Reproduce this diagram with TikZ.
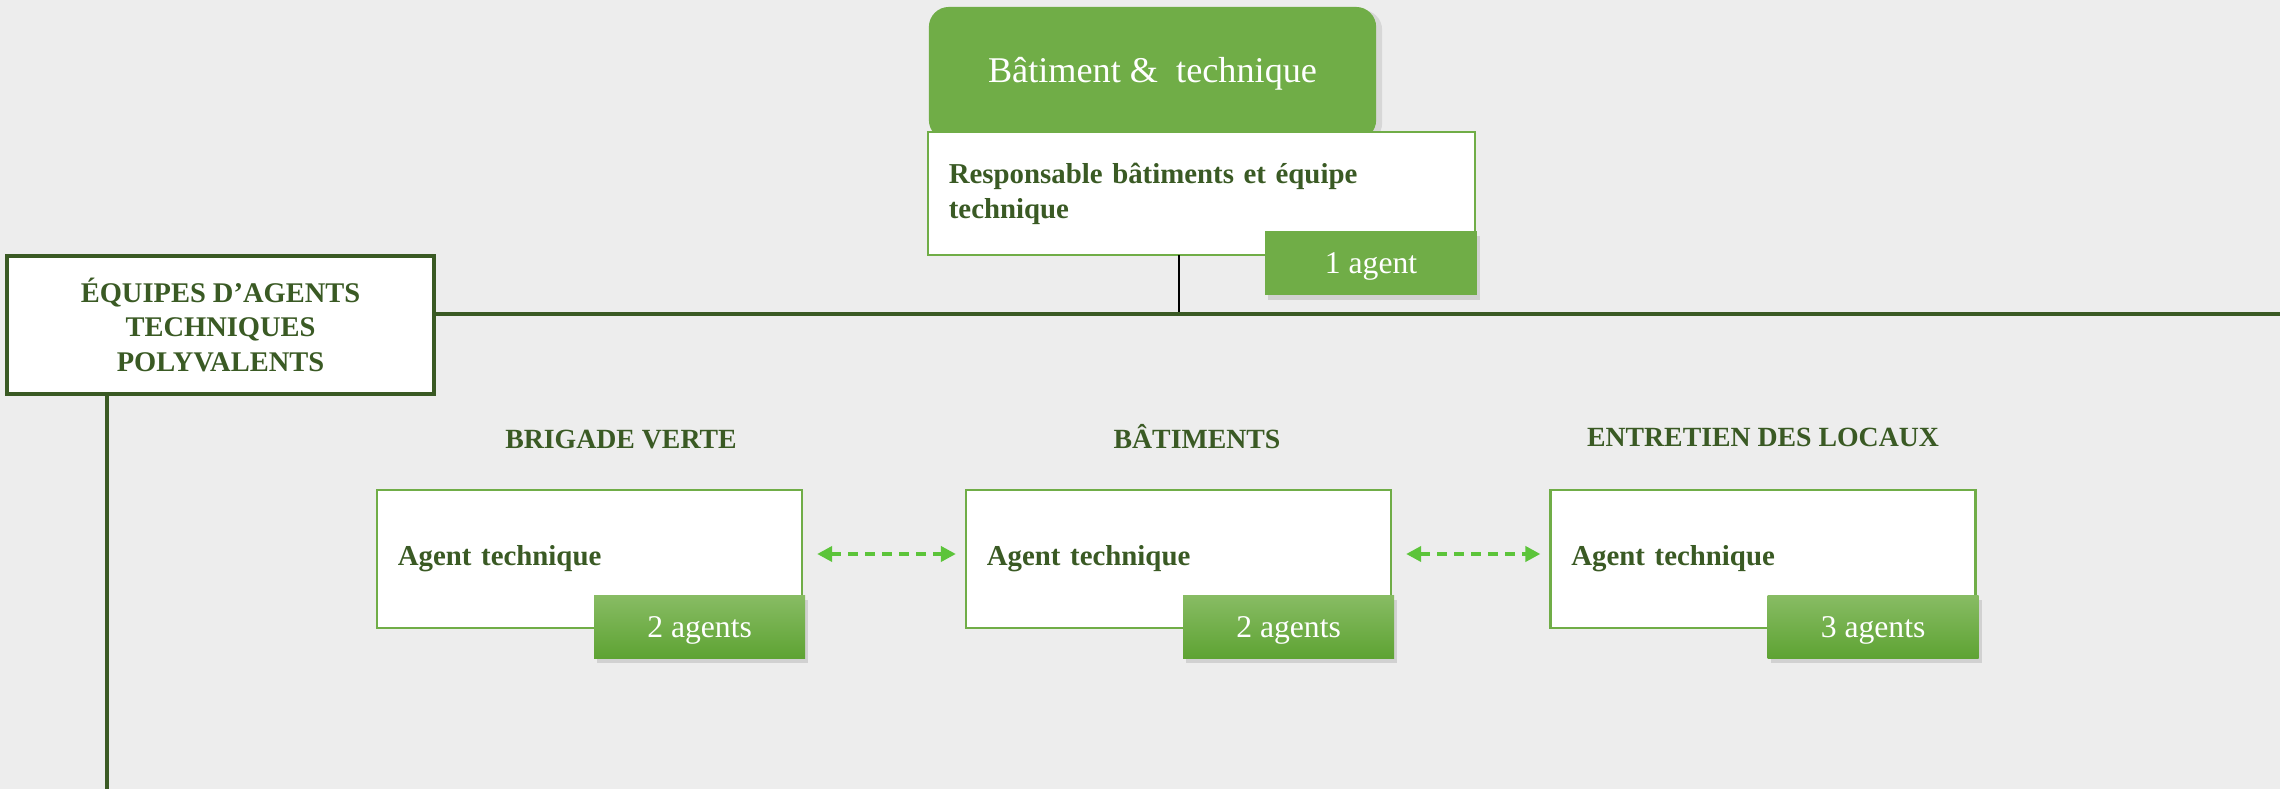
\documentclass[tikz,border=0pt]{standalone}
\usepackage{fontspec}
\setmainfont{Liberation Serif}
\usetikzlibrary{arrows.meta,positioning,shadows}

\definecolor{bgGray}{HTML}{EDEDED}
\definecolor{leafGreen}{HTML}{70AD47}
\definecolor{darkGreen}{HTML}{3A5A24}
\definecolor{arrowGreen}{HTML}{5CC43A}
\definecolor{badgeTop}{HTML}{88BC64}
\definecolor{badgeBot}{HTML}{5EA333}

\begin{document}
\begin{tikzpicture}[x=0.01cm, y=-0.01cm, >=Stealth,
    every node/.style={inner sep=0pt, outer sep=0pt},
    titlebox/.style={fill=leafGreen, rounded corners=2mm, minimum width=4.47cm, minimum height=1.33cm,
        text=white, font=\fontsize{10.3}{12}\selectfont,
        drop shadow={opacity=0.2, shadow xshift=0.6mm, shadow yshift=-0.3mm}},
    rolebox/.style={draw=leafGreen, line width=0.7pt, fill=white, minimum height=1.38cm,
        inner xsep=0.21cm, text width=3.83cm, align=left, text=darkGreen,
        font=\bfseries\fontsize{8.2}{10}\selectfont},
    teambox/.style={draw=darkGreen, line width=1pt, fill=white, minimum width=4.27cm, minimum height=1.38cm,
        align=center, text=darkGreen, font=\bfseries\fontsize{8.1}{9.8}\selectfont},
    grouphead/.style={text=darkGreen, font=\bfseries\fontsize{7.9}{9}\selectfont},
    badge/.style={top color=badgeTop, bottom color=badgeBot, minimum width=2.11cm, minimum height=0.63cm,
        text=white, font=\fontsize{9}{10}\selectfont, text height=6.2pt, text depth=0pt,
        drop shadow={opacity=0.25, shadow xshift=0.3mm, shadow yshift=-0.5mm}},
    flatbadge/.style={badge, fill=leafGreen, top color=leafGreen, bottom color=leafGreen},
    trunk/.style={darkGreen, line width=1pt},
    link/.style={<->, >={Triangle[length=1.5mm,width=1.5mm]}, arrowGreen, line width=1.1pt,
        dash pattern=on 1mm off 0.7mm, shorten <=0.15cm, shorten >=0.1cm}]

    % Background
    \fill[bgGray] (0,0) rectangle (2280,789);
    \useasboundingbox (0,0) rectangle (2280,789);

    % Department header and its manager
    \node[titlebox] (dept) at (1152.5,73.5) {Bâtiment \&~ technique};
    \node[rolebox, minimum width=5.47cm, text width=5.05cm, minimum height=1.23cm] (resp) at (1201.5,193.5)
        {Responsable bâtiments et équipe\\technique};

    % Team block
    \node[teambox] (pol) at (220.5,325) {ÉQUIPES D’AGENTS\\TECHNIQUES\\POLYVALENTS};

    % Tree lines
    \coordinate (hub) at (1179,314);
    \coordinate (lineend) at (2280,314);
    \coordinate (trunkend) at (107,789);
    \draw[black, line width=0.6pt] (hub |- resp.south) -- (hub);
    \draw[trunk] (pol.east |- hub) -- (lineend);
    \draw[trunk] (trunkend |- pol.south) -- (trunkend);

    \node[flatbadge] (respn) at (1371,263) {1 agent};

    % Groups
    \node[grouphead, anchor=base] (brigt) at (621,449) {BRIGADE VERTE};
    \node[grouphead, anchor=base] (batt) at (1197,449) {BÂTIMENTS};
    \node[grouphead, anchor=base] (entt) at (1763,447) {ENTRETIEN DES LOCAUX};

    \node[rolebox] (brig) at (589.5,559) {Agent technique};
    \node[rolebox] (bat) at (1178.5,559) {Agent technique};
    \node[rolebox] (ent) at (1763,559) {Agent technique};

    \node[badge, anchor=south east] (brign) at ([xshift=0.03cm, yshift=-0.3cm]brig.south east) {2 agents};
    \node[badge, anchor=south east] (batn) at ([xshift=0.03cm, yshift=-0.3cm]bat.south east) {2 agents};
    \node[badge, anchor=south east] (entn) at ([xshift=0.03cm, yshift=-0.3cm]ent.south east) {3 agents};

    % Exchanges between groups
    \draw[link] ([yshift=0.05cm]brig.east) -- ([yshift=0.05cm]bat.west);
    \draw[link] ([yshift=0.05cm]bat.east) -- ([yshift=0.05cm]ent.west);

\end{tikzpicture}
\end{document}
